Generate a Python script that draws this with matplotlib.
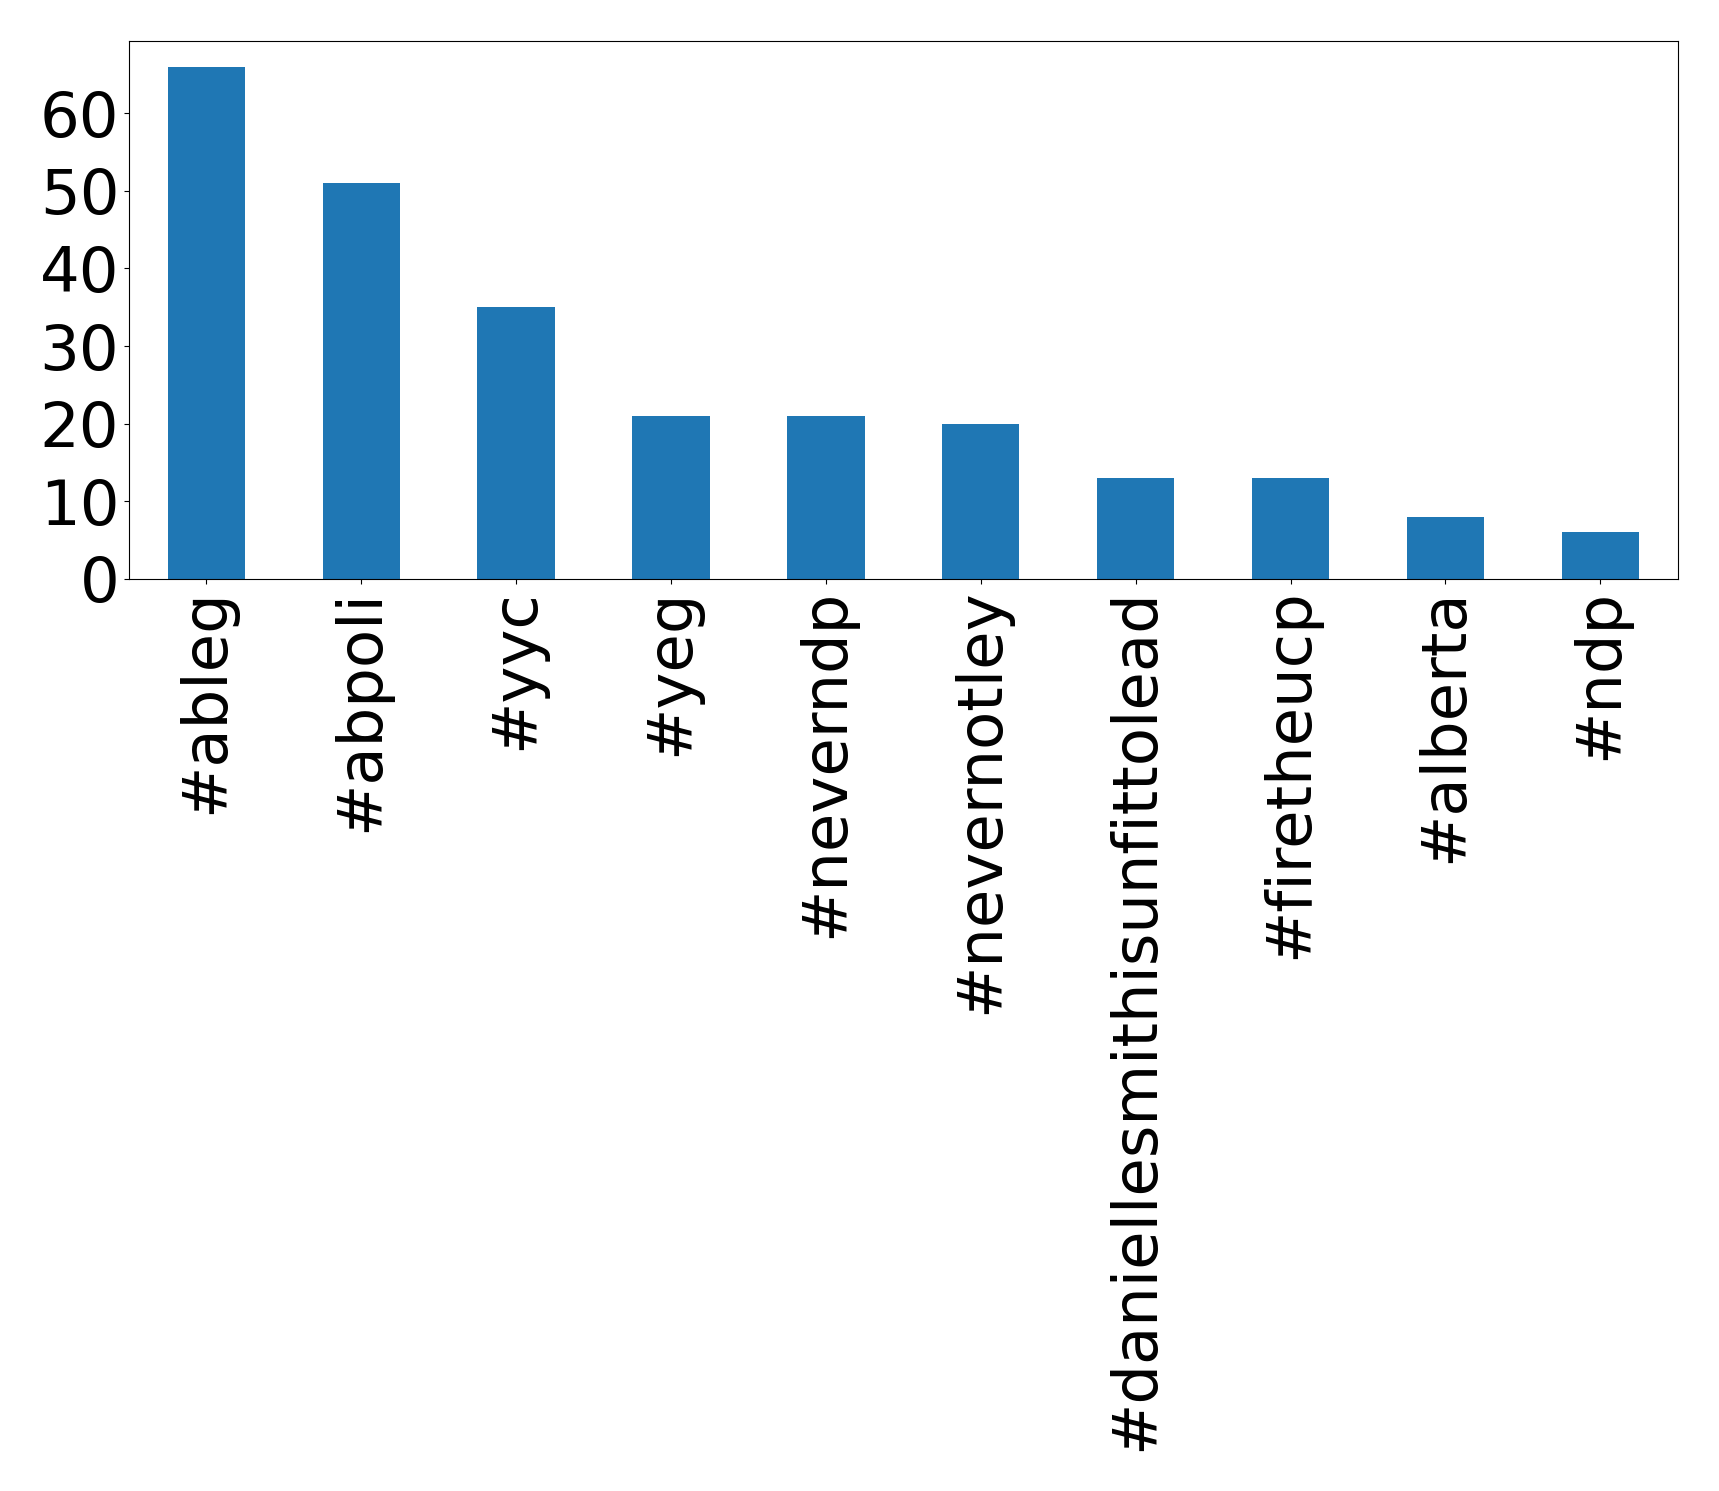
import matplotlib
matplotlib.use('Agg')
import matplotlib.pyplot as plt
import pandas as pd

hashtags = ['#ableg', '#abpoli', '#yyc', '#yeg', '#neverndp', '#nevernotley',
            '#daniellesmithisunfittolead', '#firetheucp', '#alberta', '#ndp']
counts = [66, 51, 35, 21, 21, 20, 13, 13, 8, 6]

s = pd.Series(counts, index=hashtags)

fig = plt.figure(figsize=(17.19, 14.91), dpi=100)
ax = fig.add_axes([0.075, 0.6117, 0.901, 0.3608])
s.plot(kind='bar', ax=ax, color='#1f77b4')
ax.set_yticks(range(0, 70, 10))
ax.tick_params(axis='both', labelsize=45)
plt.setp(ax.get_xticklabels(), rotation=90)

fig.savefig('out.png', dpi=100)
